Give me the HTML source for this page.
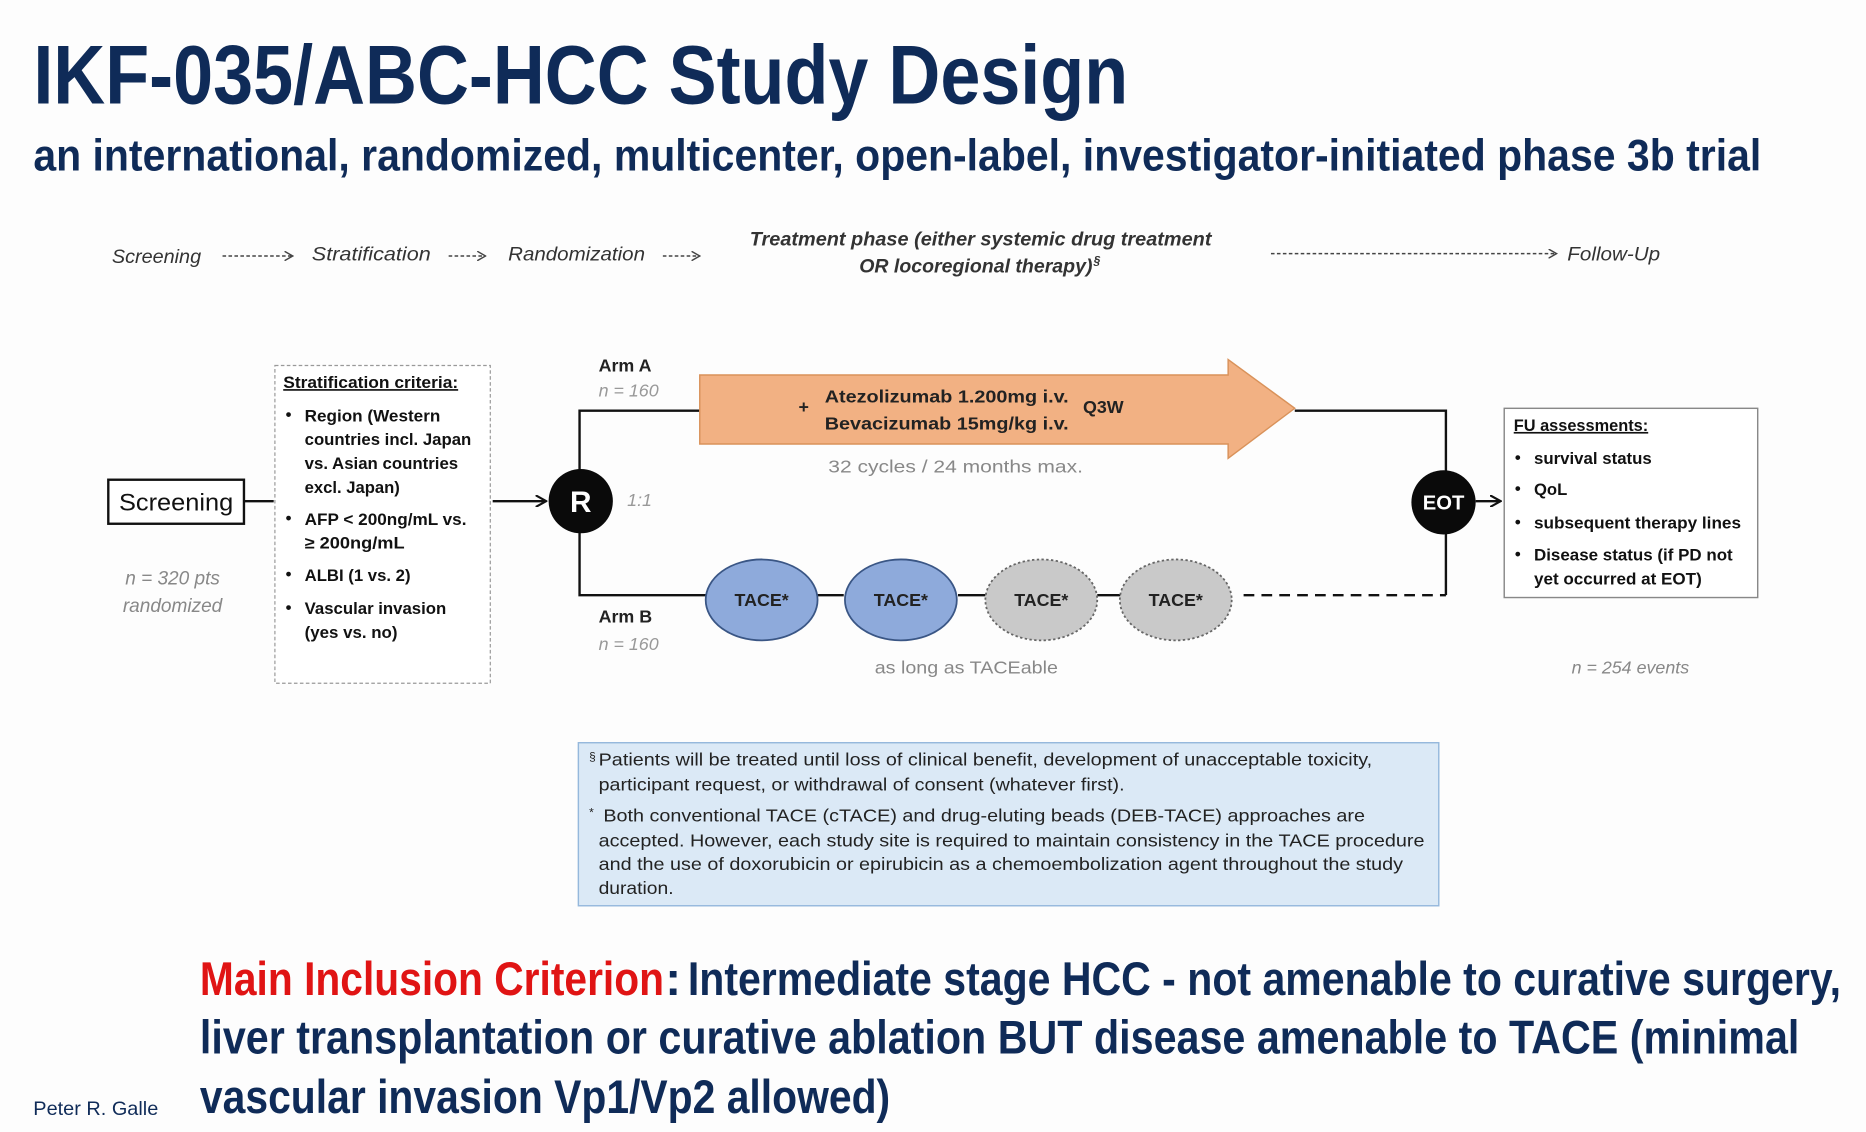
<!DOCTYPE html>
<html><head><meta charset="utf-8"><style>
html,body{margin:0;padding:0;background:#fdfdfd;}
svg{display:block;}
text{font-family:"Liberation Sans",sans-serif;}
</style></head><body>
<svg width="1866" height="1132" viewBox="0 0 1568 951" xmlns="http://www.w3.org/2000/svg">
<defs>
<marker id="ah" markerWidth="10" markerHeight="10" refX="9" refY="5" orient="auto" markerUnits="userSpaceOnUse"><path d="M0,0 L9,5 L0,10" fill="none" stroke="#111" stroke-width="1.8"/></marker>
<marker id="ah2" markerWidth="8" markerHeight="8" refX="7" refY="4" orient="auto" markerUnits="userSpaceOnUse"><path d="M0,0 L7,4 L0,8" fill="none" stroke="#444" stroke-width="1.2"/></marker>
</defs>
<rect width="1568" height="951" fill="#fdfdfd"/>
<text x="28" y="87" font-size="70" font-weight="bold" fill="#0f2b58" textLength="920" lengthAdjust="spacingAndGlyphs">IKF-035/ABC-HCC Study Design</text>
<text x="28" y="143" font-size="37" font-weight="bold" fill="#0f2b58" textLength="1452" lengthAdjust="spacingAndGlyphs">an international, randomized, multicenter, open-label, investigator-initiated phase 3b trial</text>

<g font-size="16" font-style="italic" fill="#333">
<text x="94" y="221" textLength="75" lengthAdjust="spacingAndGlyphs">Screening</text>
<text x="262" y="219" textLength="100" lengthAdjust="spacingAndGlyphs">Stratification</text>
<text x="427" y="219" textLength="115" lengthAdjust="spacingAndGlyphs">Randomization</text>
<text x="1317" y="219" textLength="78" lengthAdjust="spacingAndGlyphs">Follow-Up</text>
<text x="824" y="206" text-anchor="middle" font-weight="bold" textLength="388" lengthAdjust="spacingAndGlyphs">Treatment phase (either systemic drug treatment</text>
<text x="722" y="229" font-weight="bold" textLength="196" lengthAdjust="spacingAndGlyphs">OR locoregional therapy)</text>
<text x="919" y="222" font-size="10" font-weight="bold">§</text>
</g>
<g stroke="#444" stroke-width="1.2" stroke-dasharray="3,2" fill="none" marker-end="url(#ah2)">
<line x1="187" y1="215" x2="246" y2="215"/>
<line x1="377" y1="215" x2="408" y2="215"/>
<line x1="557" y1="215" x2="588" y2="215"/>
<line x1="1068" y1="213" x2="1308" y2="213"/>
</g>

<rect x="91" y="403" width="114" height="37" fill="#fff" stroke="#111" stroke-width="2"/>
<text x="148" y="429" font-size="20" text-anchor="middle" fill="#111" textLength="96" lengthAdjust="spacingAndGlyphs">Screening</text>
<line x1="205" y1="421" x2="230" y2="421" stroke="#111" stroke-width="2"/>
<text x="145" y="491" font-size="16" font-style="italic" fill="#888" text-anchor="middle">n = 320 pts</text>
<text x="145" y="514" font-size="16" font-style="italic" fill="#888" text-anchor="middle">randomized</text>

<rect x="231" y="307" width="181" height="267" fill="#fff" stroke="#999" stroke-width="1" stroke-dasharray="3,2"/>
<g font-size="14" fill="#111" font-weight="bold">
<text x="238" y="326" text-decoration="underline" textLength="147" lengthAdjust="spacingAndGlyphs">Stratification criteria:</text>
<text x="240" y="353">•</text><text x="256" y="354" textLength="114" lengthAdjust="spacingAndGlyphs">Region (Western</text>
<text x="256" y="374" textLength="140" lengthAdjust="spacingAndGlyphs">countries incl. Japan</text>
<text x="256" y="394" textLength="129" lengthAdjust="spacingAndGlyphs">vs. Asian countries</text>
<text x="256" y="414" textLength="80" lengthAdjust="spacingAndGlyphs">excl. Japan)</text>
<text x="240" y="440">•</text><text x="256" y="441" textLength="136" lengthAdjust="spacingAndGlyphs">AFP &lt; 200ng/mL vs.</text>
<text x="256" y="461" textLength="84" lengthAdjust="spacingAndGlyphs">≥ 200ng/mL</text>
<text x="240" y="487">•</text><text x="256" y="488" textLength="89" lengthAdjust="spacingAndGlyphs">ALBI (1 vs. 2)</text>
<text x="240" y="515">•</text><text x="256" y="516" textLength="119" lengthAdjust="spacingAndGlyphs">Vascular invasion</text>
<text x="256" y="536" textLength="78" lengthAdjust="spacingAndGlyphs">(yes vs. no)</text>
</g>

<line x1="414" y1="421" x2="459" y2="421" stroke="#111" stroke-width="2" marker-end="url(#ah)"/>

<g stroke="#111" stroke-width="2" fill="none">
<polyline points="588,345 487,345 487,500 593,500"/>
<polyline points="1088,345 1215,345 1215,500"/>
<line x1="687" y1="500" x2="709" y2="500"/>
<line x1="805" y1="500" x2="828" y2="500"/>
<line x1="922" y1="500" x2="942" y2="500"/>
<line x1="1045" y1="500" x2="1215" y2="500" stroke-dasharray="9,6"/>
<line x1="1240" y1="421" x2="1261" y2="421" marker-end="url(#ah)"/>
</g>

<circle cx="488" cy="421" r="27" fill="#0a0a0a"/>
<text x="488" y="430" font-size="25" font-weight="bold" fill="#fff" text-anchor="middle">R</text>
<text x="527" y="425" font-size="15" font-style="italic" fill="#999">1:1</text>

<text x="503" y="312" font-size="15" font-weight="bold" fill="#222">Arm A</text>
<text x="503" y="333" font-size="15" font-style="italic" fill="#999">n = 160</text>
<text x="503" y="523" font-size="15" font-weight="bold" fill="#222">Arm B</text>
<text x="503" y="546" font-size="15" font-style="italic" fill="#999">n = 160</text>

<path d="M588,315 L1032,315 L1032,302 L1088,343 L1032,385 L1032,373 L588,373 Z" fill="#f2b183" stroke="#d9925a" stroke-width="1.2"/>
<g font-size="15" font-weight="bold" fill="#222">
<text x="671" y="347">+</text>
<text x="693" y="338" textLength="205" lengthAdjust="spacingAndGlyphs">Atezolizumab 1.200mg i.v.</text>
<text x="693" y="361" textLength="205" lengthAdjust="spacingAndGlyphs">Bevacizumab 15mg/kg i.v.</text>
<text x="910" y="347">Q3W</text>
</g>
<text x="803" y="397" font-size="15" fill="#888" text-anchor="middle" textLength="214" lengthAdjust="spacingAndGlyphs">32 cycles / 24 months max.</text>

<ellipse cx="640" cy="504" rx="47" ry="34" fill="#8eaadb" stroke="#3a5685" stroke-width="1.5"/>
<ellipse cx="757" cy="504" rx="47" ry="34" fill="#8eaadb" stroke="#3a5685" stroke-width="1.5"/>
<ellipse cx="875" cy="504" rx="47" ry="34" fill="#c9c9c9" stroke="#666" stroke-width="1.5" stroke-dasharray="2,2"/>
<ellipse cx="988" cy="504" rx="47" ry="34" fill="#c9c9c9" stroke="#666" stroke-width="1.5" stroke-dasharray="2,2"/>
<g font-size="15" font-weight="bold" fill="#222" text-anchor="middle">
<text x="640" y="509">TACE*</text><text x="757" y="509">TACE*</text><text x="875" y="509">TACE*</text><text x="988" y="509">TACE*</text>
</g>
<text x="812" y="566" font-size="15" fill="#888" text-anchor="middle" textLength="154" lengthAdjust="spacingAndGlyphs">as long as TACEable</text>
<text x="1370" y="566" font-size="15" font-style="italic" fill="#888" text-anchor="middle">n = 254 events</text>

<circle cx="1213" cy="422" r="27" fill="#0a0a0a"/>
<text x="1213" y="428" font-size="17" font-weight="bold" fill="#fff" text-anchor="middle">EOT</text>

<rect x="1264" y="343" width="213" height="159" fill="#fff" stroke="#888" stroke-width="1.2"/>
<g font-size="14" font-weight="bold" fill="#111">
<text x="1272" y="362" text-decoration="underline" textLength="113" lengthAdjust="spacingAndGlyphs">FU assessments:</text>
<text x="1273" y="389">•</text><text x="1289" y="390" textLength="99" lengthAdjust="spacingAndGlyphs">survival status</text>
<text x="1273" y="415">•</text><text x="1289" y="416">QoL</text>
<text x="1273" y="443">•</text><text x="1289" y="444" textLength="174" lengthAdjust="spacingAndGlyphs">subsequent therapy lines</text>
<text x="1273" y="470">•</text><text x="1289" y="471" textLength="167" lengthAdjust="spacingAndGlyphs">Disease status (if PD not</text>
<text x="1289" y="491" textLength="141" lengthAdjust="spacingAndGlyphs">yet occurred at EOT)</text>
</g>

<rect x="486" y="624" width="723" height="137" fill="#dbe9f6" stroke="#95b8dc" stroke-width="1.2"/>
<g font-size="15" fill="#222">
<text x="495" y="639" font-size="10">§</text>
<text x="503" y="643" textLength="650" lengthAdjust="spacingAndGlyphs">Patients will be treated until loss of clinical benefit, development of unacceptable toxicity,</text>
<text x="503" y="664" textLength="442" lengthAdjust="spacingAndGlyphs">participant request, or withdrawal of consent (whatever first).</text>
<text x="495" y="686" font-size="10">*</text>
<text x="507" y="690" textLength="640" lengthAdjust="spacingAndGlyphs">Both conventional TACE (cTACE) and drug-eluting beads (DEB-TACE) approaches are</text>
<text x="503" y="711" textLength="694" lengthAdjust="spacingAndGlyphs">accepted. However, each study site is required to maintain consistency in the TACE procedure</text>
<text x="503" y="731" textLength="676" lengthAdjust="spacingAndGlyphs">and the use of doxorubicin or epirubicin as a chemoembolization agent throughout the study</text>
<text x="503" y="751" textLength="63" lengthAdjust="spacingAndGlyphs">duration.</text>
</g>

<g font-size="40" font-weight="bold" fill="#0f2b58">
<text x="168" y="836" fill="#e01414" textLength="390" lengthAdjust="spacingAndGlyphs">Main Inclusion Criterion</text>
<text x="559" y="836" fill="#0f2b58">:</text>
<text x="578" y="836" textLength="969" lengthAdjust="spacingAndGlyphs">Intermediate stage HCC - not amenable to curative surgery,</text>
<text x="168" y="885" textLength="1344" lengthAdjust="spacingAndGlyphs">liver transplantation or curative ablation BUT disease amenable to TACE  (minimal</text>
<text x="168" y="935" textLength="580" lengthAdjust="spacingAndGlyphs">vascular invasion Vp1/Vp2 allowed)</text>
</g>
<text x="28" y="937" font-size="16" fill="#0f2b58" textLength="105" lengthAdjust="spacingAndGlyphs">Peter R. Galle</text>
</svg>
</body></html>
